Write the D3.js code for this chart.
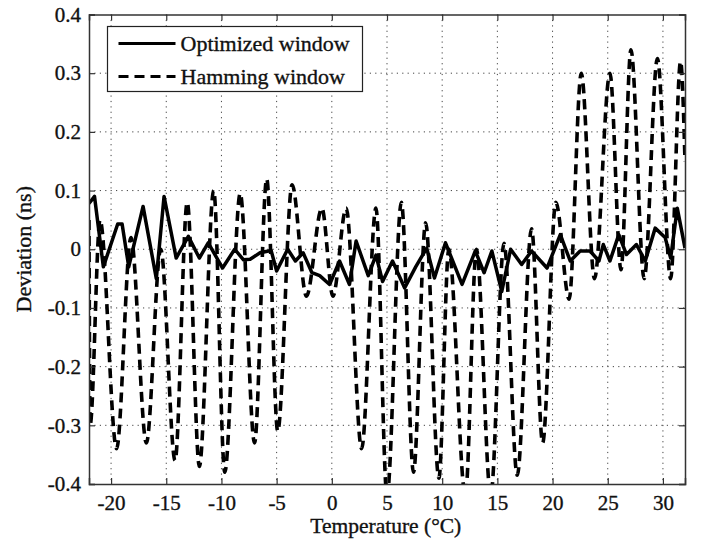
<!DOCTYPE html>
<html>
<head>
<meta charset="utf-8">
<script src="https://cdn.jsdelivr.net/npm/d3@7"></script>
<style>
  body { margin: 0; background: #fff; }
  text { font-family: "Liberation Serif", "Times New Roman", serif; fill: #111; stroke: #111; stroke-width: 0.35px; }
</style>
</head>
<body>
<div id="chart"></div>
<script>
// data
var optimT = [-22, -21.5, -20.7, -19.4, -19.0, -18.4, -17.1, -15.9, -15.2, -14.1, -13.0, -12.0, -11.2, -9.9, -8.8, -8.0, -7.4, -6.5, -5.5, -5.0, -4.0, -3.3, -2.6, -1.8, -1.1, -0.2, 0.7, 1.6, 2.2, 3.3, 4.0, 4.6, 5.5, 6.6, 7.6, 8.6, 9.3, 10.3, 11.8, 13.0, 13.8, 14.5, 15.4, 16.2, 17.2, 18.1, 19.5, 20.7, 21.6, 22.5, 23.4, 24.2, 24.6, 25.2, 26.0, 26.7, 27.6, 28.4, 29.3, 30.2, 30.7, 31.3, 32];
var optimDev = [0.078, 0.09, -0.03, 0.043, 0.043, -0.03, 0.073, -0.05, 0.09, -0.015, 0.022, -0.015, 0.011, -0.032, 0.0, -0.018, -0.017, -0.006, -0.002, -0.037, 0.0, -0.02, -0.006, -0.04, -0.045, -0.06, -0.02, -0.06, 0.014, -0.045, -0.01, -0.055, -0.02, -0.066, -0.03, 0.002, -0.049, 0.011, -0.06, -0.003, -0.04, -0.003, -0.072, 0.0, -0.026, -0.003, -0.032, 0.025, -0.02, -0.003, -0.003, -0.02, 0.008, -0.02, 0.025, -0.009, 0.008, -0.02, 0.036, 0.02, -0.015, 0.07, 0.002];

var hammT = [-22, -21.9, -21.0, -19.5, -18.2, -16.8, -15.5, -14.2, -13.1, -12.0, -10.7, -9.7, -8.3, -7.0, -5.9, -4.9, -3.6, -2.3, -0.9, 0.1, 1.3, 2.7, 4.0, 5.0, 6.3, 7.4, 8.5, 9.7, 10.6, 12.1, 13.1, 14.4, 15.6, 16.8, 18.1, 19.1, 20.3, 21.5, 22.6, 23.8, 25.2, 26.2, 27.1, 28.3, 29.5, 30.7, 31.6, 32];
var hammDev = [0.05, -0.30, 0.05, -0.34, 0.02, -0.33, 0.0, -0.36, 0.08, -0.37, 0.10, -0.38, 0.095, -0.33, 0.12, -0.31, 0.11, -0.08, 0.07, -0.08, 0.07, -0.34, 0.07, -0.42, 0.08, -0.38, 0.045, -0.39, 0.0, -0.42, 0.0, -0.42, 0.01, -0.385, 0.035, -0.33, 0.08, -0.085, 0.30, -0.05, 0.30, -0.035, 0.34, -0.05, 0.325, -0.05, 0.32, 0.15];

var xTicks = [-20, -15, -10, -5, 0, 5, 10, 15, 20, 25, 30];
var yTicks = [-0.4, -0.3, -0.2, -0.1, 0, 0.1, 0.2, 0.3, 0.4];
var xTickLabels = ["-20", "-15", "-10", "-5", "0", "5", "10", "15", "20", "25", "30"];
var yTickLabels = ["-0.4", "-0.3", "-0.2", "-0.1", "0", "0.1", "0.2", "0.3", "0.4"];
var seriesNames = ["Optimized window", "Hamming window"];

var svgWidth = 704;
var svgHeight = 540;
var margin = { top: 14.5, right: 19, bottom: 56, left: 89 };
var width = svgWidth - margin.left - margin.right;
var height = svgHeight - margin.top - margin.bottom;

var svg = d3.select("#chart").append("svg")
  .attr("width", svgWidth)
  .attr("height", svgHeight)
  .style("background", "#fff");

var chart = svg.append("g")
  .attr("transform", "translate(" + margin.left + "," + margin.top + ")");

var x = d3.scaleLinear().domain([-22, 32]).range([0, width]);
var y = d3.scaleLinear().domain([-0.4, 0.4]).range([height, 0]);

// dotted grid
chart.append("g").selectAll("line.vg")
  .data(xTicks).enter().append("line")
  .attr("x1", d => x(d)).attr("x2", d => x(d))
  .attr("y1", 0).attr("y2", height)
  .attr("stroke", "#444").attr("stroke-width", 1)
  .attr("stroke-dasharray", "1.2,4.2");
chart.append("g").selectAll("line.hg")
  .data(yTicks.slice(1, -1)).enter().append("line")
  .attr("x1", 0).attr("x2", width)
  .attr("y1", d => y(d)).attr("y2", d => y(d))
  .attr("stroke", "#444").attr("stroke-width", 1)
  .attr("stroke-dasharray", "1.2,4.2");

// clip
svg.append("defs").append("clipPath").attr("id", "clip")
  .append("rect").attr("width", width).attr("height", height);

var plot = chart.append("g").attr("clip-path", "url(#clip)");

var hammData = hammT.map((t, i) => [t, hammDev[i]]);
var optimData = optimT.map((t, i) => [t, optimDev[i]]);

var hammLine = d3.line().x(d => x(d[0])).y(d => y(d[1])).curve(d3.curveMonotoneX);
var optimLine = d3.line().x(d => x(d[0])).y(d => y(d[1]));

plot.append("path").datum(hammData)
  .attr("d", hammLine)
  .attr("fill", "none").attr("stroke", "#000")
  .attr("stroke-width", 3.6)
  .attr("stroke-dasharray", "10,6");

plot.append("path").datum(optimData)
  .attr("d", optimLine)
  .attr("fill", "none").attr("stroke", "#000")
  .attr("stroke-width", 3.5)
  .attr("stroke-linejoin", "round");

// axes (MATLAB style: box with inward ticks)
var bottomAxis = d3.axisBottom(x).tickValues(xTicks).tickSize(-6).tickPadding(11)
  .tickFormat((d, i) => xTickLabels[i]);
var leftAxis = d3.axisLeft(y).tickValues(yTicks).tickSize(-6).tickPadding(8)
  .tickFormat((d, i) => yTickLabels[i]);
var topAxis = d3.axisTop(x).tickValues(xTicks).tickSize(-6).tickFormat("");
var rightAxis = d3.axisRight(y).tickValues(yTicks).tickSize(-6).tickFormat("");

function styleAxis(g) {
  g.select(".domain").attr("stroke", "#333").attr("stroke-width", 1.5);
  g.selectAll(".tick line").attr("stroke", "#333").attr("stroke-width", 1.2);
  g.selectAll(".tick text")
    .style("font-family", "'Liberation Serif', serif")
    .style("font-size", "21px")
    .attr("fill", "#111");
}

chart.append("g").attr("transform", "translate(0," + height + ")").call(bottomAxis).call(styleAxis);
chart.append("g").call(leftAxis).call(styleAxis);
chart.append("g").call(topAxis).call(styleAxis);
chart.append("g").attr("transform", "translate(" + width + ",0)").call(rightAxis).call(styleAxis);

// legend
var legend = svg.append("g").attr("transform", "translate(107.5,26.5)");
legend.append("rect")
  .attr("width", 255).attr("height", 65)
  .attr("fill", "#fff").attr("stroke", "#222").attr("stroke-width", 1.2);
var legendRows = legend.selectAll("g.row").data(seriesNames).enter().append("g")
  .attr("transform", (d, i) => "translate(0," + (17 + i * 33) + ")");
legendRows.append("line")
  .attr("x1", 11).attr("x2", 68).attr("y1", 0).attr("y2", 0)
  .attr("stroke", "#000").attr("stroke-width", 3)
  .attr("stroke-dasharray", (d, i) => i === 1 ? "10,6" : null);
legendRows.append("text")
  .attr("x", 73).attr("y", 7)
  .style("font-size", "22px")
  .text(d => d);

// axis titles
svg.append("text")
  .attr("x", margin.left + x(0) + 54)
  .attr("y", 533)
  .attr("text-anchor", "middle")
  .style("font-size", "21.5px")
  .text("Temperature (°C)");

svg.append("text")
  .attr("transform", "translate(31," + (margin.top + y(0)) + ") rotate(-90)")
  .attr("text-anchor", "middle")
  .style("font-size", "22px")
  .text("Deviation (ns)");
</script>
</body>
</html>
